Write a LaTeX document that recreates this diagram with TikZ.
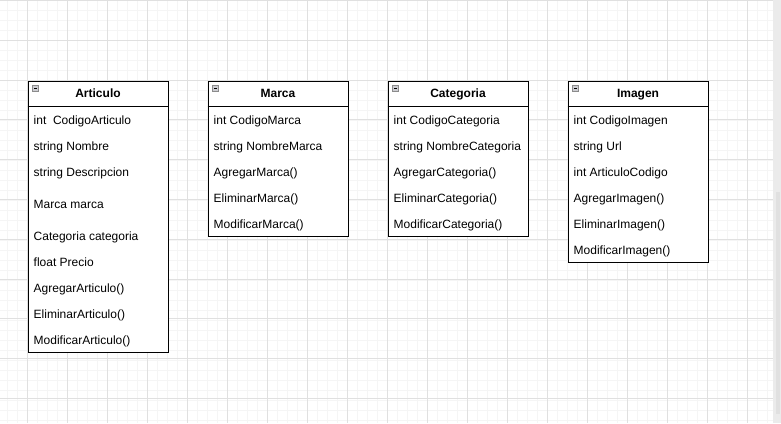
\documentclass[tikz,border=0pt]{standalone}
\usepackage{fontspec}
\setmainfont{Liberation Sans}
\definecolor{gridmajor}{RGB}{224,224,224}
\definecolor{gridminor}{RGB}{245,245,245}
\definecolor{track}{RGB}{235,235,235}
\definecolor{thumb}{RGB}{224,224,224}
\definecolor{iconborder}{RGB}{140,140,140}
\definecolor{iconfill}{RGB}{205,205,210}
\tikzset{
  classbox/.style={draw=black, line width=1pt, fill=white, anchor=north west, inner sep=0pt, minimum width=140pt},
  classtitle/.style={font=\fontsize{12}{14}\selectfont\bfseries, inner sep=0pt, anchor=base},
  member/.style={font=\fontsize{12}{14}\selectfont, anchor=base west, inner sep=0pt},
  sepline/.style={draw=black, line width=1pt},
  icon/.style={draw=iconborder, line width=0.8pt, fill=iconfill},
}
\begin{document}
\begin{tikzpicture}[x=1pt,y=-1pt]
\useasboundingbox (0,0) rectangle (781,423);
\fill[white] (0,0) rectangle (781,423);
% grid
\foreach \x in {7.3,17.3,...,773} \draw[gridminor, line width=1pt] (\x,0) -- (\x,423);
\foreach \y in {10.3,20.3,...,423} \draw[gridminor, line width=1pt] (0,\y) -- (773,\y);
\foreach \x in {27.3,67.3,...,773} \draw[gridmajor, line width=1pt] (\x,0) -- (\x,423);
\foreach \y in {0.5,40.3,...,423} \draw[gridmajor, line width=1pt] (0,\y) -- (773,\y);
% scrollbar
\fill[track] (773.3,0) rectangle (781,423);
\fill[thumb] (775.7,191.7) rectangle (780,414);
% class macro: #1 name, #2 left x, #3 bottom y, #4 title
\newcommand{\umlclass}[4]{%
  \node[classbox, minimum height={#3-80.5}] (#1) at (#2,80.5) {};
  \draw[sepline] (#1.west |- 0,106.2) -- (#1.east |- 0,106.2);
  \node[classtitle] (#1-title) at (#1.north |- 0,97.3) {#4};
  \filldraw[icon] (#2+5,85.5) rectangle (#2+11.2,91.7);
  \draw[black, line width=1pt] (#2+6.6,88.6) -- (#2+9.6,88.6);
}
\umlclass{articulo}{27.5}{352.3}{Articulo}
\umlclass{marca}{207.5}{236.3}{Marca}
\umlclass{categoria}{387.5}{236.3}{Categoria}
\umlclass{imagen}{567.5}{262.3}{Imagen}
% members (y = baseline)
\foreach \t/\y [count=\i] in {{int\ \ CodigoArticulo}/124.3,{string Nombre}/150.3,{string Descripcion}/176.3,{Marca marca}/208,{Categoria categoria}/240.3,{float Precio}/266.3,{AgregarArticulo()}/292.3,{EliminarArticulo()}/318.3,{ModificarArticulo()}/344}
  \node[member] (articulo-m\i) at ([xshift=6pt]articulo.west |- 0,\y) {\t};
\foreach \t/\y [count=\i] in {{int CodigoMarca}/124.3,{string NombreMarca}/150.3,{AgregarMarca()}/176.3,{EliminarMarca()}/202.3,{ModificarMarca()}/228.3}
  \node[member] (marca-m\i) at ([xshift=6pt]marca.west |- 0,\y) {\t};
\foreach \t/\y [count=\i] in {{int CodigoCategoria}/124.3,{string NombreCategoria}/150.3,{AgregarCategoria()}/176.3,{EliminarCategoria()}/202.3,{ModificarCategoria()}/228.3}
  \node[member] (categoria-m\i) at ([xshift=6pt]categoria.west |- 0,\y) {\t};
\foreach \t/\y [count=\i] in {{int CodigoImagen}/124.3,{string Url}/150.3,{int ArticuloCodigo}/176.3,{AgregarImagen()}/202.3,{EliminarImagen()}/228.3,{ModificarImagen()}/254.3}
  \node[member] (imagen-m\i) at ([xshift=6pt]imagen.west |- 0,\y) {\t};
\end{tikzpicture}
\end{document}
